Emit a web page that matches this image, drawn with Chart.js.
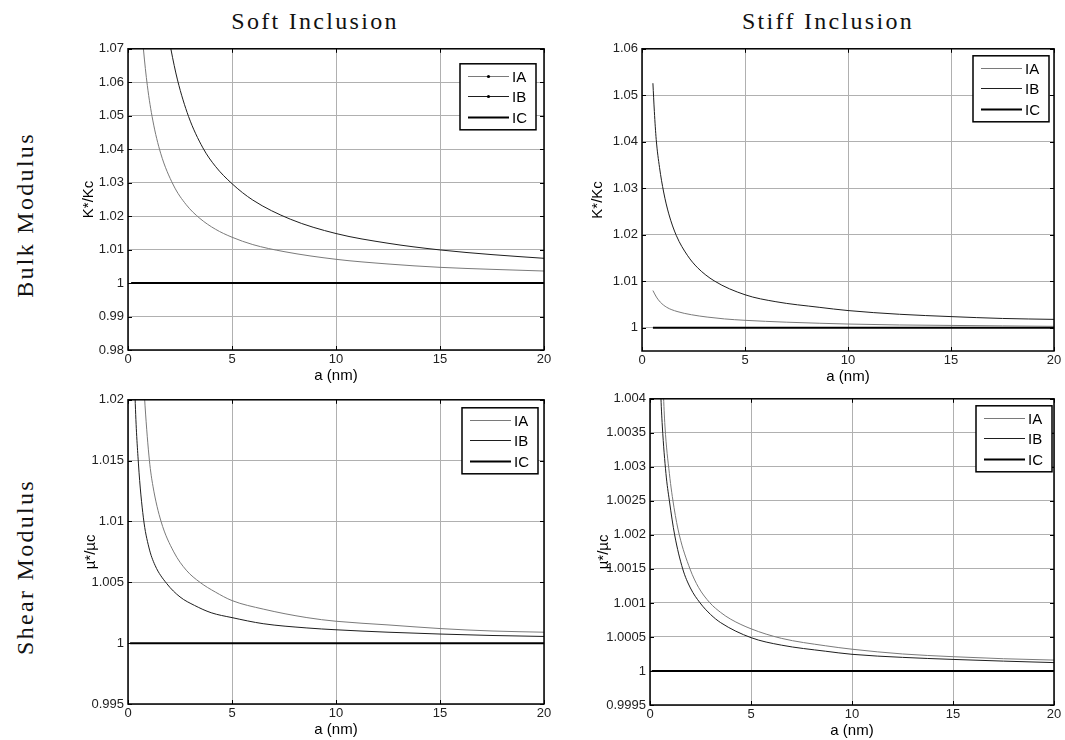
<!DOCTYPE html>
<html>
<head>
<meta charset="utf-8">
<script src="https://cdn.jsdelivr.net/npm/chart.js@4.4.1/dist/chart.umd.min.js"></script>
<style>
body { margin: 0; background: #fff; }
#fig { position: relative; width: 1065px; height: 740px; background: #fff; overflow: hidden; }
.panel { position: absolute; }
.lbl { position: absolute; font-family: "Liberation Serif", "Times New Roman", serif; font-size: 24px;
       letter-spacing: 2.3px; color: #111; white-space: nowrap; transform: translate(-50%, -50%); }
.rot { transform: translate(-50%, -50%) rotate(-90deg); }
</style>
</head>
<body>
<div id="fig">
  <div class="lbl" style="left:315px;top:21px">Soft Inclusion</div>
  <div class="lbl" style="left:828px;top:21px">Stiff Inclusion</div>
  <div class="lbl rot" style="left:25px;top:215px">Bulk Modulus</div>
  <div class="lbl rot" style="left:25px;top:567px">Shear Modulus</div>
  <div class="panel" id="p1"><canvas id="c1"></canvas></div>
  <div class="panel" id="p2"><canvas id="c2"></canvas></div>
  <div class="panel" id="p3"><canvas id="c3"></canvas></div>
  <div class="panel" id="p4"><canvas id="c4"></canvas></div>
</div>
<script>
// common x ticks (a in nm)
const xTicks = [0, 5, 10, 15, 20];
const seriesNames = ['IA', 'IB', 'IC'];

// soft inclusion, bulk modulus K*/Kc
const softBulkIA_a = [0.62, 0.74, 0.93, 1.19, 1.57, 2.18, 2.8, 3.46, 4.2, 5, 6, 7.5, 10, 12.5, 15, 17.5, 20];
const softBulkIA_v = [1.079, 1.07, 1.059, 1.0487, 1.0388, 1.0293, 1.0234, 1.0193, 1.0161, 1.0137, 1.0115, 1.0094, 1.0071, 1.0057, 1.0047, 1.0041, 1.0036];
const softBulkIB_a = [1.9, 2.06, 2.38, 2.91, 3.6, 4.2, 5, 6, 7.8, 10, 12.5, 15, 17.5, 20];
const softBulkIB_v = [1.0757, 1.07, 1.0607, 1.0498, 1.0404, 1.0349, 1.0297, 1.0248, 1.0191, 1.0148, 1.0119, 1.0099, 1.0085, 1.0074];
const softBulkIC_a = [0.15, 20];
const softBulkIC_v = [1, 1];
const softBulkTicks = [0.98, 0.99, 1, 1.01, 1.02, 1.03, 1.04, 1.05, 1.06, 1.07];

// stiff inclusion, bulk modulus K*/Kc
const stiffBulkIA_a = [0.53, 0.7, 0.89, 1.2, 1.7, 2.4, 3.16, 4, 5, 7, 8.6, 10, 12.5, 15, 17.5, 20];
const stiffBulkIA_v = [1.008, 1.0066, 1.0055, 1.0044, 1.0035, 1.0028, 1.0023, 1.0019, 1.0016, 1.0012, 1.00097, 1.0008, 1.0006, 1.0005, 1.0004, 1.0003];
const stiffBulkIB_a = [0.53, 0.6, 0.69, 0.85, 1.05, 1.3, 1.67, 2.2, 2.7, 3.5, 5, 6.5, 8.6, 10, 12.5, 15, 17.5, 20];
const stiffBulkIB_v = [1.0526, 1.0465, 1.0405, 1.0345, 1.0292, 1.0245, 1.0198, 1.0156, 1.0129, 1.0101, 1.0071, 1.0056, 1.0044, 1.0037, 1.0029, 1.0024, 1.002, 1.0018];
const stiffBulkIC_a = [0.53, 20];
const stiffBulkIC_v = [1, 1];
const stiffBulkTicks = [1, 1.01, 1.02, 1.03, 1.04, 1.05, 1.06];

// soft inclusion, shear modulus mu*/muc
const softShearIA_a = [0.7, 0.82, 1.03, 1.2, 1.59, 2.2, 2.8, 3.46, 4.2, 5, 6.5, 8.6, 10, 12.5, 15, 17.5, 20];
const softShearIA_v = [1.0232, 1.0195, 1.015, 1.0129, 1.01, 1.0075, 1.006, 1.005, 1.0042, 1.0035, 1.0028, 1.0021, 1.0018, 1.0015, 1.0012, 1.001, 1.0009];
const softShearIB_a = [0.28, 0.34, 0.5, 0.74, 1.0, 1.3, 1.86, 2.5, 3.2, 4, 5, 6.5, 8.6, 10, 12.5, 15, 17.5, 20];
const softShearIB_v = [1.0245, 1.0202, 1.0148, 1.0103, 1.0079, 1.0064, 1.0049, 1.0038, 1.0031, 1.0025, 1.0021, 1.0016, 1.00125, 1.0011, 1.0009, 1.00075, 1.00063, 1.00055];
const softShearIC_a = [0.1, 20];
const softShearIC_v = [1, 1];
const softShearTicks = [0.995, 1, 1.005, 1.01, 1.015, 1.02];

// stiff inclusion, shear modulus mu*/muc
const stiffShearIA_a = [0.6, 0.66, 0.74, 0.96, 1.19, 1.45, 1.98, 2.4, 2.97, 3.5, 4, 5, 6.5, 8.7, 10, 12.5, 15, 17.5, 20];
const stiffShearIA_v = [1.0046, 1.0041, 1.0036, 1.0029, 1.0024, 1.002, 1.0015, 1.00123, 1.001, 1.00086, 1.00076, 1.00062, 1.00048, 1.00037, 1.00032, 1.00025, 1.00021, 1.00018, 1.00016];
const stiffShearIB_a = [0.48, 0.53, 0.61, 0.79, 0.96, 1.22, 1.62, 2.0, 2.48, 3.0, 3.5, 5, 6.5, 8.7, 10, 12.5, 15, 17.5, 20];
const stiffShearIB_v = [1.0046, 1.0041, 1.0036, 1.0029, 1.0025, 1.002, 1.0015, 1.00122, 1.001, 1.00083, 1.00071, 1.00049, 1.00038, 1.00029, 1.000245, 1.0002, 1.00017, 1.000145, 1.000123];
const stiffShearIC_a = [0.1, 20];
const stiffShearIC_v = [1, 1];
const stiffShearTicks = [0.9995, 1, 1.0005, 1.001, 1.0015, 1.002, 1.0025, 1.003, 1.0035, 1.004];

const lineColors = ['#7a7a7a', '#1e1e1e', '#000000'];
const lineWidths = [1, 1, 2];
const sansFont = '"Liberation Sans", Arial, sans-serif';

function pts(xs, ys) {
    return xs.map((x, i) => ({ x: x, y: ys[i] }));
}

// panel layout: plot box in page pixels [left, top, width, height]
const panels = [
    { id: 'c1', box: 'p1', plot: [128, 47, 416, 303], yW: 52, yTitle: 'K*/Kc', yMin: 0.98, yMax: 1.07,
      yTicks: softBulkTicks, legendTop: 15, legendRight: 8, dots: true,
      series: [[softBulkIA_a, softBulkIA_v], [softBulkIB_a, softBulkIB_v], [softBulkIC_a, softBulkIC_v]] },
    { id: 'c2', box: 'p2', plot: [642, 47, 412, 304], yW: 57, yTitle: 'K*/Kc', yMin: 0.995, yMax: 1.06,
      yTicks: stiffBulkTicks, legendTop: 7, legendRight: 5, dots: false,
      series: [[stiffBulkIA_a, stiffBulkIA_v], [stiffBulkIB_a, stiffBulkIB_v], [stiffBulkIC_a, stiffBulkIC_v]] },
    { id: 'c3', box: 'p3', plot: [128, 398, 416, 306], yW: 50, yTitle: 'µ*/µc', yMin: 0.995, yMax: 1.02,
      yTicks: softShearTicks, legendTop: 8, legendRight: 6, dots: false,
      series: [[softShearIA_a, softShearIA_v], [softShearIB_a, softShearIB_v], [softShearIC_a, softShearIC_v]] },
    { id: 'c4', box: 'p4', plot: [650, 397, 404, 308], yW: 59, yTitle: 'µ*/µc', yMin: 0.9995, yMax: 1.004,
      yTicks: stiffShearTicks, legendTop: 7, legendRight: 2, dots: false,
      series: [[stiffShearIA_a, stiffShearIA_v], [stiffShearIB_a, stiffShearIB_v], [stiffShearIC_a, stiffShearIC_v]] }
];

const PAD_TOP = 10, PAD_RIGHT = 14, X_H = 35;

// frame, inward ticks and boxed legend, drawn over the lines
const framePlugin = {
    id: 'frame',
    afterDatasetsDraw(chart, args, opts) {
        const { ctx, chartArea: a, scales } = chart;
        ctx.save();
        ctx.strokeStyle = '#000';
        ctx.lineWidth = 1;
        ctx.beginPath();
        scales.x.ticks.forEach(t => {
            const px = Math.round(scales.x.getPixelForValue(t.value)) + 0.5;
            ctx.moveTo(px, a.bottom); ctx.lineTo(px, a.bottom - 4);
            ctx.moveTo(px, a.top); ctx.lineTo(px, a.top + 4);
        });
        scales.y.ticks.forEach(t => {
            const py = Math.round(scales.y.getPixelForValue(t.value)) + 0.5;
            ctx.moveTo(a.left, py); ctx.lineTo(a.left + 4, py);
            ctx.moveTo(a.right, py); ctx.lineTo(a.right - 4, py);
        });
        ctx.stroke();
        ctx.lineWidth = 1.5;
        ctx.strokeRect(a.left, a.top, a.width, a.height);

        // legend
        const w = 76, h = 66;
        const lx = a.right - opts.right - w, ly = a.top + opts.top;
        ctx.fillStyle = '#fff';
        ctx.fillRect(lx, ly, w, h);
        ctx.strokeRect(lx, ly, w, h);
        ctx.font = '15px ' + sansFont;
        ctx.textBaseline = 'middle';
        chart.data.datasets.forEach((ds, i) => {
            const yy = Math.round(ly + 12 + i * 20.5) + 0.5;
            ctx.strokeStyle = ds.borderColor;
            ctx.lineWidth = ds.borderWidth;
            ctx.beginPath();
            ctx.moveTo(lx + 8, yy); ctx.lineTo(lx + 49, yy);
            ctx.stroke();
            if (opts.dots && i < 2) {
                ctx.fillStyle = '#000';
                ctx.beginPath();
                ctx.arc(lx + 28.5, yy, 1.6, 0, Math.PI * 2);
                ctx.fill();
            }
            ctx.fillStyle = '#000';
            ctx.fillText(ds.label, lx + 52, yy + 1);
        });
        ctx.restore();
    }
};

panels.forEach(p => {
    const [pl, pt, pw, ph] = p.plot;
    const box = document.getElementById(p.box);
    const cw = p.yW + pw + PAD_RIGHT, ch = PAD_TOP + ph + X_H;
    box.style.left = (pl - p.yW) + 'px';
    box.style.top = (pt - PAD_TOP) + 'px';
    const canvas = document.getElementById(p.id);
    canvas.width = cw;
    canvas.height = ch;

    const datasets = p.series.map((s, i) => ({
        label: seriesNames[i],
        data: pts(s[0], s[1]),
        borderColor: lineColors[i],
        borderWidth: lineWidths[i],
        pointRadius: 0,
        fill: false,
        cubicInterpolationMode: 'monotone'
    }));

    new Chart(canvas.getContext('2d'), {
        type: 'line',
        data: { datasets: datasets },
        plugins: [framePlugin],
        options: {
            responsive: false,
            animation: false,
            events: [],
            layout: { padding: { top: PAD_TOP, right: PAD_RIGHT, left: 0, bottom: 0 } },
            plugins: {
                legend: { display: false },
                tooltip: { enabled: false },
                frame: { top: p.legendTop, right: p.legendRight, dots: p.dots }
            },
            scales: {
                x: {
                    type: 'linear',
                    min: 0,
                    max: 20,
                    afterBuildTicks: s => { s.ticks = xTicks.map(v => ({ value: v })); },
                    afterFit: s => { s.height = X_H; },
                    grid: { color: '#b0b0b0', lineWidth: 1, drawTicks: false },
                    border: { display: false },
                    ticks: { padding: 2, color: '#222', font: { family: sansFont, size: 13 },
                             maxRotation: 0, callback: v => String(v) },
                    title: { display: true, text: 'a (nm)', color: '#000',
                             font: { family: sansFont, size: 15 }, padding: { top: 0, bottom: 0 } }
                },
                y: {
                    type: 'linear',
                    min: p.yMin,
                    max: p.yMax,
                    afterBuildTicks: s => { s.ticks = p.yTicks.map(v => ({ value: v })); },
                    afterFit: s => { s.width = p.yW; },
                    grid: { color: '#b0b0b0', lineWidth: 1, drawTicks: false },
                    border: { display: false },
                    ticks: { padding: 4, color: '#222', font: { family: sansFont, size: 13 },
                             callback: v => String(v) },
                    title: { display: true, text: p.yTitle, color: '#000',
                             font: { family: sansFont, size: 15 }, padding: { top: 4, bottom: 4 } }
                }
            }
        }
    });
});
</script>
</body>
</html>
